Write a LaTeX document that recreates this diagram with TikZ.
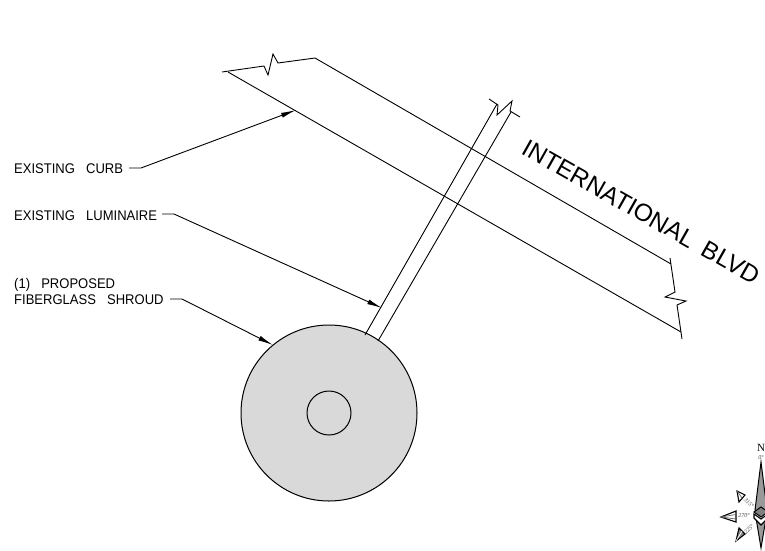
\documentclass[tikz,border=0pt]{standalone}
\usepackage{fontspec}
\setmainfont{Liberation Sans}
\newfontfamily\serifN{Liberation Serif}
\newfontfamily\cad[FakeStretch=0.93]{Liberation Sans}
\usetikzlibrary{arrows.meta}
\tikzset{
  x=1pt,y=-1pt,
  edge/.style={line width=0.9pt,line join=miter},
  lead/.style={line width=0.9pt},
  leadarrow/.style={lead,-{Latex[length=15pt,width=5pt]}},
  call/.style={anchor=base west,inner sep=0pt,font=\cad\fontsize{14}{12}\selectfont},
  blvd/.style={anchor=base west,inner sep=0pt,rotate=-29.5,font=\fontsize{24.5}{25}\selectfont},
  ticklabel/.style={inner sep=0pt,text=black!70,font=\serifN\itshape\fontsize{6}{6}\selectfont},
  point/.style={draw=black,line width=1.1pt,line join=miter,fill=white},
  pointdark/.style={draw=black,line width=1pt,line join=miter,fill=black!40},
  inner point/.style={draw=black!60,line width=0.7pt}
}
\newcommand{\wsp}{\hspace{0.8em}}
\begin{document}
\begin{tikzpicture}
\useasboundingbox (0,0) rectangle (765,550);
\fill[white] (0,0) rectangle (765,550);
% road
\coordinate (a1) at (222,72);\coordinate (a2) at (264,66);\coordinate (a3) at (268,75);
\coordinate (a4) at (273,54);\coordinate (a5) at (278,63);\coordinate (a6) at (315,58);
\coordinate (lo) at (228,72);
\coordinate (b1) at (670,258);\coordinate (b2) at (675,292);\coordinate (b3) at (665,297);
\coordinate (b4) at (686,301);\coordinate (b5) at (677,305);\coordinate (b6) at (682,339);
\coordinate (up) at (671,264);\coordinate (dn) at (681,332);
\draw[edge] (a1)--(a2)--(a3)--(a4)--(a5)--(a6);
\draw[edge] (a6)--(up);
\draw[edge] (lo)--(dn);
\draw[edge] (b1)--(b2)--(b3)--(b4)--(b5)--(b6);
% shroud
\node[circle,draw=black,line width=1pt,fill=black!15,minimum size=176pt,inner sep=0pt] (shroud) at (329,413) {};
\node[circle,draw=black,line width=1pt,fill=black!15,minimum size=44pt,inner sep=0pt] (hub) at (329,413) {};
% pole
\coordinate (p1) at (365,335);\coordinate (p2) at (497,104);
\coordinate (p3) at (378,341);\coordinate (p4) at (511,112);
\coordinate (c1) at (489,99);\coordinate (c2) at (498,105);\coordinate (c3) at (497,115);
\coordinate (c4) at (512,101);\coordinate (c5) at (510,111);\coordinate (c6) at (520,117);
\draw[edge] (p1)--(p2);
\draw[edge] (p3)--(p4);
\draw[edge] (c1)--(c2)--(c3)--(c4)--(c5)--(c6);
% callouts
\node[call] (curb) at (14,173) {EXISTING\wsp CURB};
\node[call] (lum) at (14,220) {EXISTING\wsp LUMINAIRE};
\node[call] (prop) at (14,288) {(1)\wsp PROPOSED};
\node[call] (fib) at (14,304) {FIBERGLASS\wsp SHROUD};
\coordinate (t1) at (296,110);\coordinate (t2) at (382,308);\coordinate (t3) at (273,345);
\coordinate (k1) at (141,168);\coordinate (k2) at (174,214);\coordinate (k3) at (182,299);
\draw[leadarrow] (129,168) -- (k1) -- (t1);
\draw[leadarrow] (162,214) -- (k2) -- (t2);
\draw[leadarrow] (170,299) -- (k3) -- (t3);
\node[blvd] (road) at (520,153) {INTERNATIONAL\hspace{0.5em}BLVD};
% compass
\node[inner sep=0pt,font=\serifN\fontsize{11}{11}\selectfont] (north) at (761,448) {N};
\node[ticklabel] (l0) at (761,458) {0°};
\draw[pointdark] (761,462) -- (755,510) -- (761,514) -- (767,510) -- cycle;
\draw[pointdark] (761,548) -- (756,518) -- (761,522) -- (766,518) -- cycle;
\draw[point] (754,514) -- (761,519) -- (768,514) -- (768,518) -- (761,525) -- (754,518) -- cycle;
\draw[pointdark,fill=black!50] (754,512) -- (761,507) -- (768,512) -- (761,517) -- cycle;
\draw[point] (721,517) -- (736,511) -- (736,522) -- cycle;
\draw[inner point] (721,517) -- (736,514.5);
\draw[inner point] (721,517) -- (736,519);
\draw[point] (737,491) -- (745,495) -- (739,502) -- cycle;
\draw[inner point] (737,491) -- (742,498);
\draw[point,fill=black!45] (736,541) -- (745,534) -- (739,528) -- cycle;
\draw[inner point,draw=white] (736,541) -- (742,531);
\node[ticklabel] (l270) at (744,516) {270°};
\node[ticklabel,rotate=-45] (l315) at (749,503) {315°};
\node[ticklabel,rotate=45] (l225) at (749,529) {225°};
\end{tikzpicture}
\end{document}
